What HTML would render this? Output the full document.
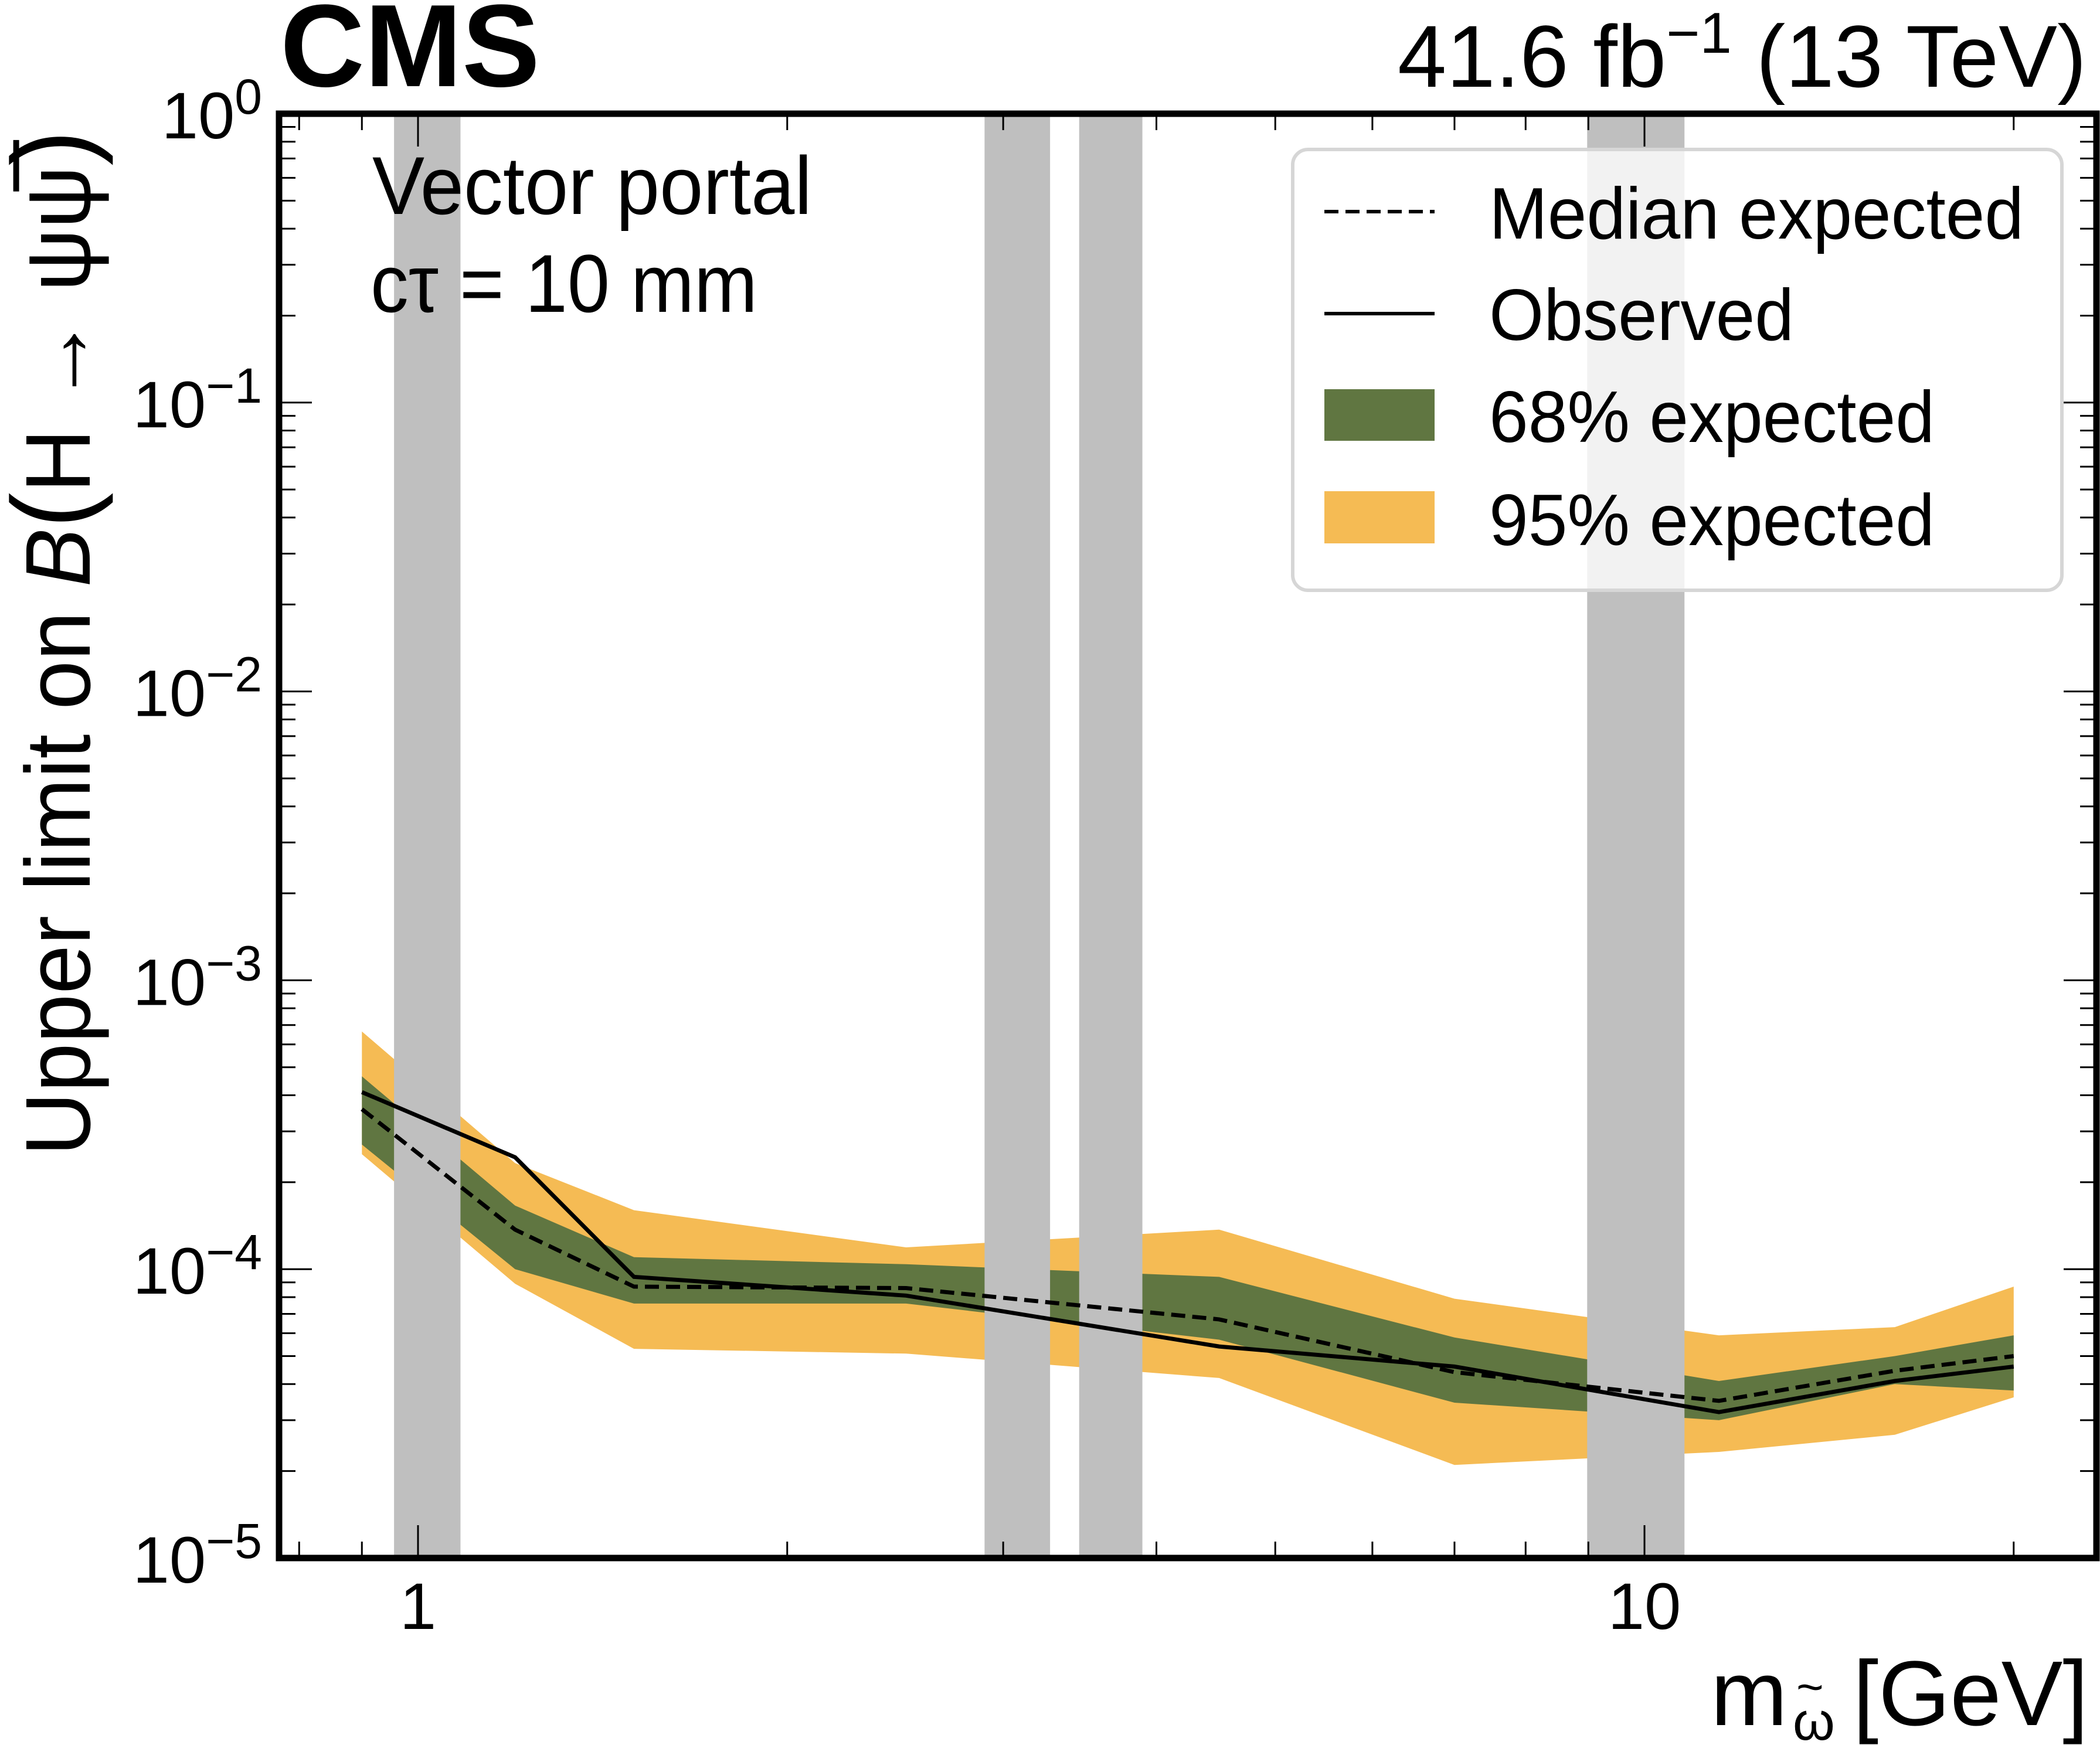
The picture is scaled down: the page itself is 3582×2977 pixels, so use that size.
<!DOCTYPE html>
<html><head><meta charset="utf-8"><style>
html,body{margin:0;padding:0;background:#fff}
svg{display:block}
text{font-family:"Liberation Sans",sans-serif;fill:#000}
</style></head><body>
<svg id="chart" width="3582" height="2977" viewBox="0 0 3582 2977" xmlns="http://www.w3.org/2000/svg">
<g id="bands"></g>
<g id="excl"></g>
<g id="lines"></g>
<g id="legend">
  <rect x="2205" y="255" width="1312" height="752" rx="26" fill="#ffffff" fill-opacity="0.8" stroke="#d6d6d6" stroke-width="6"/>
  <line x1="2259" y1="361" x2="2447" y2="361" stroke="#000" stroke-width="6" stroke-dasharray="24,12"/>
  <text x="2540" y="407" font-size="124" textLength="912" lengthAdjust="spacingAndGlyphs">Median expected</text>
  <line x1="2259" y1="535" x2="2447" y2="535" stroke="#000" stroke-width="6"/>
  <text x="2540" y="580" font-size="124" textLength="520" lengthAdjust="spacingAndGlyphs">Observed</text>
  <rect x="2259" y="664" width="188" height="88" fill="#607641"/>
  <text x="2540" y="754" font-size="124" textLength="760" lengthAdjust="spacingAndGlyphs">68% expected</text>
  <rect x="2259" y="838" width="188" height="89" fill="#f5bb54"/>
  <text x="2540" y="930" font-size="124" textLength="760" lengthAdjust="spacingAndGlyphs">95% expected</text>
</g>
<g id="axes"></g>
<text x="478" y="147" font-size="200" font-weight="bold" textLength="443" lengthAdjust="spacingAndGlyphs">CMS</text>
<text x="3559" y="148" font-size="150" text-anchor="end" textLength="1175" lengthAdjust="spacingAndGlyphs">41.6 fb<tspan dy="-58" font-size="98">−1</tspan><tspan dy="58"> (13 TeV)</tspan></text>
<text x="635" y="365" font-size="140" textLength="750" lengthAdjust="spacingAndGlyphs">Vector portal</text>
<text x="632" y="532" font-size="140" textLength="660" lengthAdjust="spacingAndGlyphs">cτ = 10 mm</text>
<g>
  <text x="2918" y="2943" font-size="157">m</text>
  <text x="3058" y="2968" font-size="92">ω</text>
  <text x="3064" y="2905" font-size="80">~</text>
  <text x="3562" y="2943" font-size="157" text-anchor="end">[GeV]</text>
</g>
<text transform="translate(153,1097) rotate(-90)" font-size="157" text-anchor="middle" textLength="1750" lengthAdjust="spacingAndGlyphs">Upper limit on <tspan font-style="italic">B</tspan><tspan font-size="190">(</tspan>H → ψψ̅<tspan font-size="190">)</tspan></text>
</svg>
<script>
const masses = [0.9, 1.2, 1.5, 2.5, 4.5, 7, 11.5, 16, 20];
const expected = [3.58e-4, 1.37e-4, 8.7e-5, 8.6e-5, 6.7e-5, 4.4e-5, 3.5e-5, 4.45e-5, 5.0e-5];
const observed = [4.1e-4, 2.44e-4, 9.4e-5, 8.1e-5, 5.4e-5, 4.6e-5, 3.2e-5, 4.1e-5, 4.6e-5];
const band68Up = [4.65e-4, 1.66e-4, 1.1e-4, 1.04e-4, 9.4e-5, 5.8e-5, 4.1e-5, 5.0e-5, 5.9e-5];
const band68Lo = [2.7e-4, 1.0e-4, 7.6e-5, 7.6e-5, 5.7e-5, 3.45e-5, 3.0e-5, 4.0e-5, 3.8e-5];
const band95Up = [6.65e-4, 2.33e-4, 1.6e-4, 1.19e-4, 1.37e-4, 7.9e-5, 5.9e-5, 6.3e-5, 8.7e-5];
const band95Lo = [2.5e-4, 8.9e-5, 5.3e-5, 5.1e-5, 4.2e-5, 2.1e-5, 2.33e-5, 2.67e-5, 3.6e-5];
const excludedLo = [0.956, 2.897, 3.46, 8.98];
const excludedHi = [1.083, 3.276, 3.896, 10.78];
const xTickLabels = ["1", "10"];
const yTickExps = ["0", "−1", "−2", "−3", "−4", "−5"];

const NS = "http://www.w3.org/2000/svg";
const L = 476, R = 3576, T = 194, B = 2658;
const X1 = 713, XPD = 2092;
const YPD = (B - T) / 5;
function xs(m){ return X1 + Math.log10(m) * XPD; }
function ys(v){ return T - Math.log10(v) * YPD; }
function mk(tag, attrs, parent){ const e = document.createElementNS(NS, tag); for (const k in attrs) e.setAttribute(k, attrs[k]); parent.appendChild(e); return e; }

const bands = document.getElementById('bands');
function bandPath(up, lo){
  let d = '';
  masses.forEach((m,i)=>{ d += (i? 'L':'M') + xs(m).toFixed(1) + ',' + ys(up[i]).toFixed(1); });
  for (let i = masses.length-1; i >= 0; i--) d += 'L' + xs(masses[i]).toFixed(1) + ',' + ys(lo[i]).toFixed(1);
  return d + 'Z';
}
const p95 = mk('path', {d: bandPath(band95Up, band95Lo), fill:'#f5bb54'}, bands);


const p68 = mk('path', {d: bandPath(band68Up, band68Lo), fill:'#607641'}, bands);



const lines = document.getElementById('lines');
function linePts(arr){ return masses.map((m,i)=> xs(m).toFixed(1) + ',' + ys(arr[i]).toFixed(1)).join(' '); }
const le = mk('polyline', {points: linePts(expected), fill:'none', stroke:'#000', 'stroke-width':7, 'stroke-dasharray':'24,12'}, lines);


const lo = mk('polyline', {points: linePts(observed), fill:'none', stroke:'#000', 'stroke-width':7}, lines);



const excl = document.getElementById('excl');
excludedLo.forEach((a,i)=>{
  const r = mk('rect', {x: xs(a), y: T, width: xs(excludedHi[i]) - xs(a), height: B - T, fill:'#bfbfbf'}, excl);
  
  
});

const axes = document.getElementById('axes');
const xMinor = [0.8,0.9,2,3,4,5,6,7,8,9,20];
xMinor.forEach(m=>{
  const x = xs(m);
  const t1 = mk('line', {x1:x, y1:B, x2:x, y2:B-28, stroke:'#000', 'stroke-width':3}, axes);
  
  
  const t2 = mk('line', {x1:x, y1:T, x2:x, y2:T+28, stroke:'#000', 'stroke-width':3}, axes);
  
  
});
[1,10].forEach((m,i)=>{
  const x = xs(m);
  const t1 = mk('line', {x1:x, y1:B, x2:x, y2:B-56, stroke:'#000', 'stroke-width':3}, axes);
  
  
  const t2 = mk('line', {x1:x, y1:T, x2:x, y2:T+56, stroke:'#000', 'stroke-width':3}, axes);
  
  
  const tx = mk('text', {x:x, y:2779, 'font-size':112, 'text-anchor':'middle'}, axes);
  tx.textContent = xTickLabels[i];
  
  
});
for (let d = 0; d <= 5; d++){
  const y = T + d * YPD;
  const t1 = mk('line', {x1:L, y1:y, x2:L+56, y2:y, stroke:'#000', 'stroke-width':3}, axes);
  
  
  const t2 = mk('line', {x1:R, y1:y, x2:R-56, y2:y, stroke:'#000', 'stroke-width':3}, axes);
  
  
  const tx = mk('text', {x:447, y:y+42, 'font-size':112, 'text-anchor':'end'}, axes);
  
  
  const a = document.createElementNS(NS, 'tspan'); a.textContent = '10'; tx.appendChild(a);
  const b = document.createElementNS(NS, 'tspan'); b.setAttribute('dy', '-42'); b.setAttribute('font-size', '84'); b.textContent = yTickExps[d]; tx.appendChild(b);
  if (d < 5){
    for (let k = 2; k <= 9; k++){
      const yy = y + YPD - Math.log10(k) * YPD;
      const m1 = mk('line', {x1:L, y1:yy, x2:L+28, y2:yy, stroke:'#000', 'stroke-width':3}, axes);
      
      
      const m2 = mk('line', {x1:R, y1:yy, x2:R-28, y2:yy, stroke:'#000', 'stroke-width':3}, axes);
      
      
    }
  }
}
const frame = mk('rect', {x:L, y:T, width:R-L, height:B-T, fill:'none', stroke:'#000', 'stroke-width':11}, axes);


</script>
</body></html>
